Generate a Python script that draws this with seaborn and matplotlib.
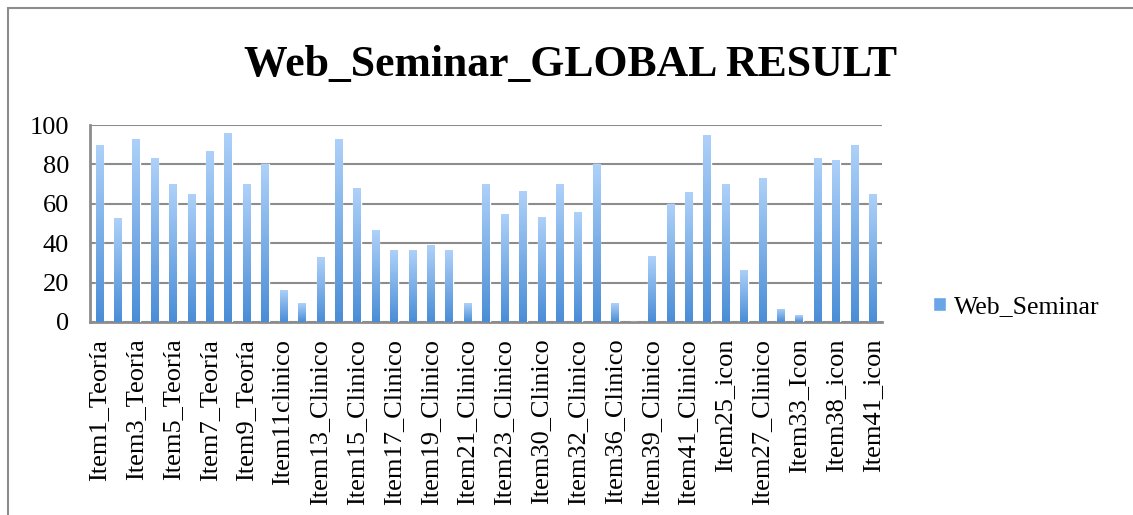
import numpy as np
import pandas as pd
import seaborn as sns
import matplotlib.pyplot as plt
from matplotlib.colors import LinearSegmentedColormap
from matplotlib.patches import Rectangle

# categorías (solo se ven las impares en el eje)
items = [
    "Item1_Teoría", "Item2_Teoría", "Item3_Teoría", "Item4_Teoría", "Item5_Teoría",
    "Item6_Teoría", "Item7_Teoría", "Item8_Teoría", "Item9_Teoría", "Item10_Teoría",
    "Item11clinico", "Item12_Clinico", "Item13_Clinico", "Item14_Clinico", "Item15_Clinico",
    "Item16_Clinico", "Item17_Clinico", "Item18_Clinico", "Item19_Clinico", "Item20_Clinico",
    "Item21_Clinico", "Item22_Clinico", "Item23_Clinico", "Item29_Clinico", "Item30_Clinico",
    "Item31_Clinico", "Item32_Clinico", "Item34_Clinico", "Item36_Clinico", "Item37_Clinico",
    "Item39_Clinico", "Item40_Clinico", "Item41_Clinico", "Item24_icon", "Item25_icon",
    "Item26_icon", "Item27_Clinico", "Item28_icon", "Item33_Icon", "Item35_icon",
    "Item38_icon", "Item40_icon", "Item41_icon",
]
web_seminar = [
    90, 52.7, 93, 83, 70, 65, 87, 96, 70, 80,
    16.4, 9.6, 32.8, 93, 68, 46.5, 36.5, 36.5, 38.9, 36.5,
    9.6, 70, 55, 66.4, 53.4, 70, 55.7, 80, 9.6, 0,
    33.3, 60, 65.9, 95, 70, 26.4, 73.1, 6.6, 3.4, 83,
    82, 90, 65,
]

df = pd.DataFrame({"Item": items, "Web_Seminar": web_seminar})

sns.set_style("white")
plt.rcParams["font.family"] = ["Liberation Serif", "DejaVu Serif"]
plt.rcParams["text.color"] = "black"
plt.rcParams["xtick.labelcolor"] = "black"
plt.rcParams["ytick.labelcolor"] = "black"

fig = plt.figure(figsize=(11.33, 5.15), dpi=100)
fig.patches.append(Rectangle((8 / 1133, -0.1), 1.2, 1.1 - 8 / 515,
                             transform=fig.transFigure, fill=False,
                             edgecolor="#8c8c8c", linewidth=1.5))
ax = fig.add_axes([90 / 1133, 1 - 322 / 515, (882 - 90) / 1133, (322 - 125) / 515])

sns.barplot(data=df, x="Item", y="Web_Seminar", color="#6aa5e6", width=0.4,
            ax=ax, zorder=3)

# degradado tipo Excel en cada barra
cmap = LinearSegmentedColormap.from_list("grad", ["#4a8dd6", "#aed1f9"])
grad = np.linspace(0, 1, 256).reshape(-1, 1)
for p in ax.patches:
    x0, y0 = p.get_x(), p.get_y()
    w, h = p.get_width(), p.get_height()
    if h <= 0:
        continue
    p.set_facecolor("none")
    im = ax.imshow(grad, cmap=cmap, aspect="auto", origin="lower",
                   extent=[x0, x0 + w, y0, y0 + h], zorder=3)
    im.set_clip_path(p)

ax.set_xlim(-0.5, len(items) - 0.5)
ax.set_ylim(0, 100)
ax.set_yticks(range(0, 101, 20))
ax.yaxis.grid(True, color="#8c8c8c", linewidth=1.5)
ax.set_axisbelow(True)

ax.set_xticks(range(0, len(items), 2))
ax.set_xticklabels(items[::2], rotation=90, fontsize=19)
ax.set_xticks(np.arange(-0.5, len(items), 1), minor=True)
ax.tick_params(axis="x", which="major", length=0, pad=12)
ax.tick_params(axis="x", which="minor", length=6, width=1.2, color="#8c8c8c", direction="out")
ax.tick_params(axis="y", length=4, width=1.2, color="#8c8c8c", labelsize=19, pad=11)
ax.set_xlabel("")
ax.set_ylabel("")

for s in ["top", "right"]:
    ax.spines[s].set_visible(False)
for s in ["left", "bottom"]:
    ax.spines[s].set_color("#8c8c8c")
    ax.spines[s].set_linewidth(2)

fig.text(571 / 1133, 1 - 65 / 515, "Web_Seminar_GLOBAL RESULT", ha="center", va="center",
         fontsize=31.5, fontweight="bold")

handle = Rectangle((0, 0), 1, 1, facecolor="#6aa5e6")
fig.legend([handle], ["Web_Seminar"], loc="center left",
           bbox_to_anchor=(910 / 1133, 1 - 307 / 515), frameon=False,
           fontsize=18.5, handlelength=0.5, handleheight=0.5, handletextpad=0.3)

fig.savefig("out.png", dpi=100)
